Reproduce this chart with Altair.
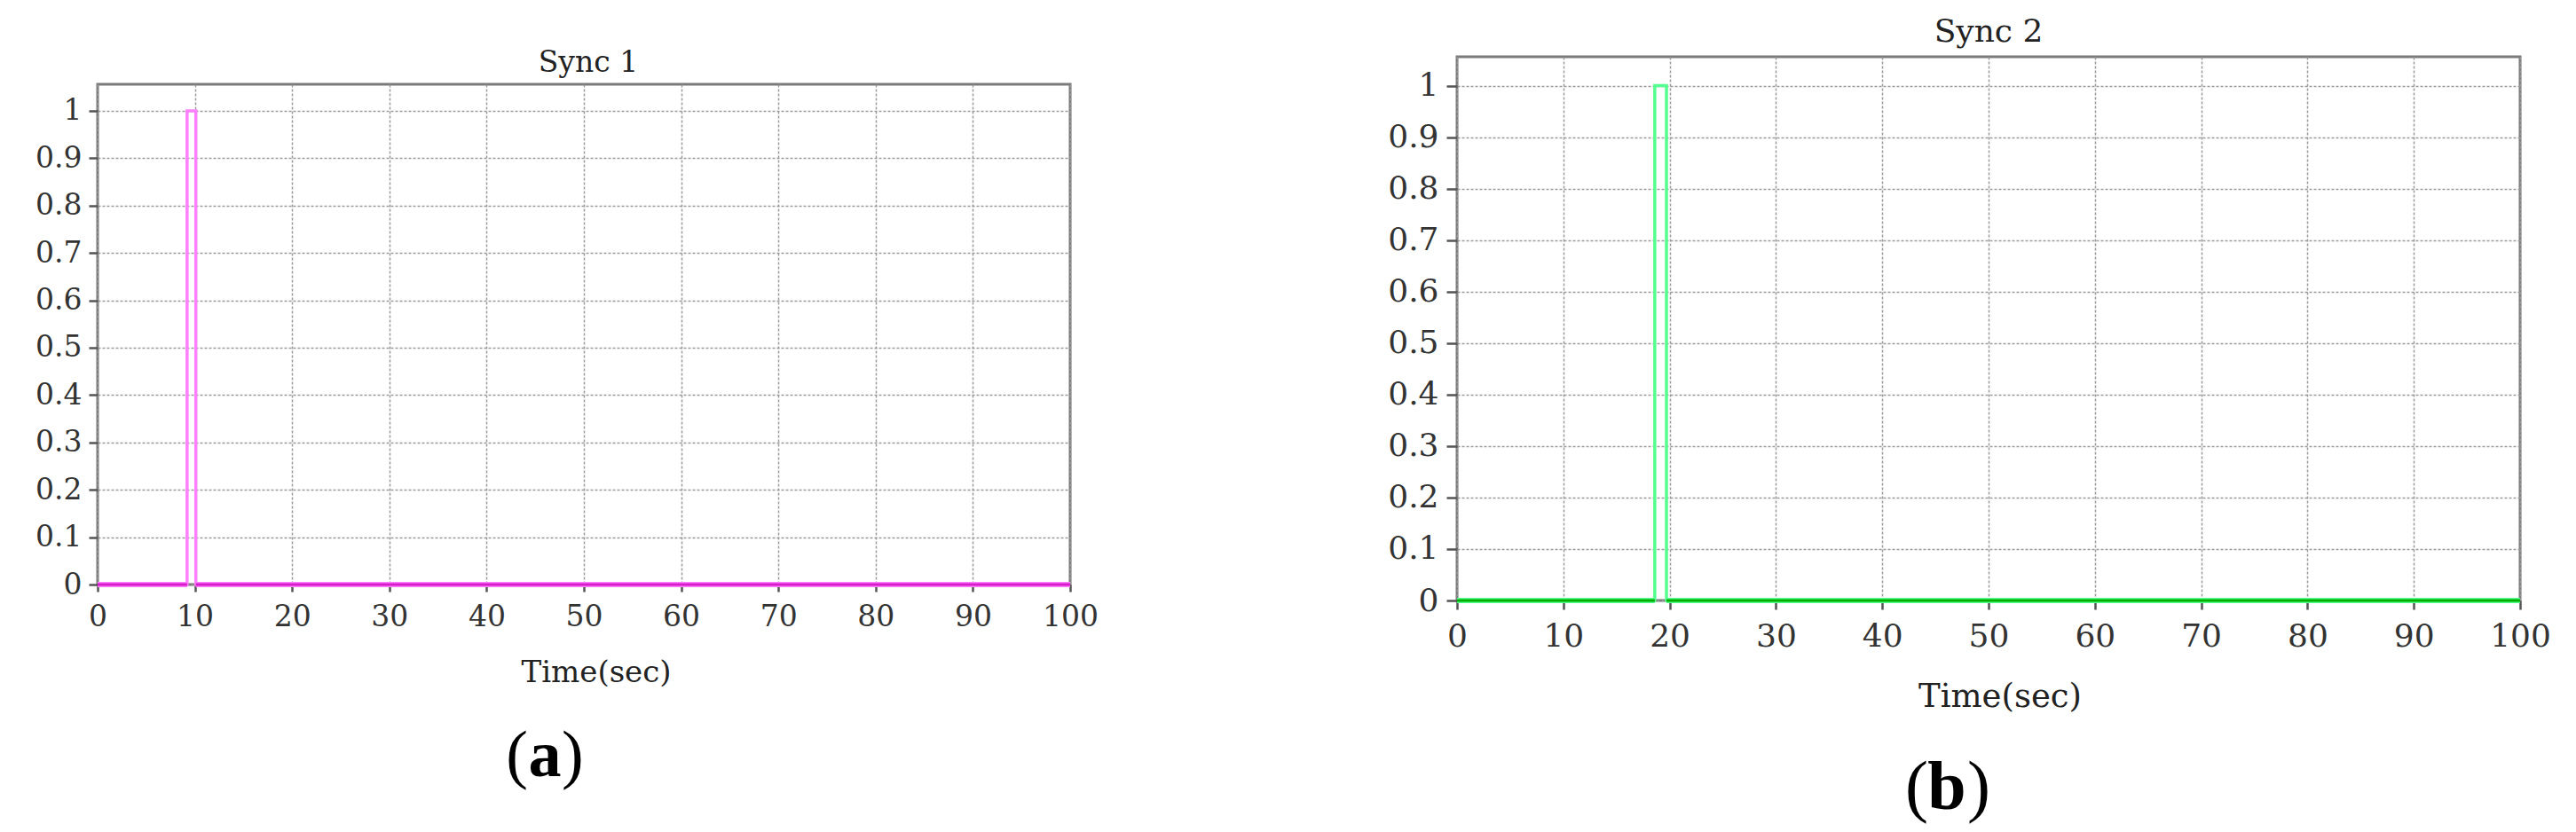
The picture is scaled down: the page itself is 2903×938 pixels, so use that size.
import altair as alt
import pandas as pd

# ---- data ----
time_a = [0, 9.2, 9.2, 10.1, 10.1, 100]
sync_a = [0, 0, 1, 1, 0, 0]
time_b = [0, 18.6, 18.6, 19.7, 19.7, 100]
sync_b = [0, 0, 1, 1, 0, 0]
x_ticks = [0, 10, 20, 30, 40, 50, 60, 70, 80, 90, 100]
y_ticks = [0, 0.1, 0.2, 0.3, 0.4, 0.5, 0.6, 0.7, 0.8, 0.9, 1.0]
titles = ["Sync 1", "Sync 2"]
panel_letters = ["a", "b"]
x_title = "Time(sec)"

FONT = "DejaVu Serif"
LFONT = "Liberation Serif"


def panel(times, vals, title, letter, pulse_color, base_color, g):
    W, H = g["W"], g["H"]
    df = pd.DataFrame({"t": times, "v": vals, "i": list(range(len(times)))})
    segs = [
        {"x0": times[k], "x1": times[k + 1], "v": vals[k]}
        for k in range(len(times) - 1)
        if vals[k] == 0 and vals[k + 1] == 0 and times[k] != times[k + 1]
    ]
    base_df = pd.DataFrame(segs)

    xs = alt.Scale(domain=[0, 100], nice=False, zero=False)
    ys = alt.Scale(domain=[0, 1.056], nice=False)

    xaxis = alt.Axis(
        values=x_ticks, title=None, grid=True, gridColor="#9a9a9a",
        gridDash=[3, 2], gridWidth=1.5, domain=False, tickColor="#555",
        tickWidth=2.5, tickSize=g["tick"], labelFont=FONT,
        labelFontSize=g["lab"], labelColor="#333", labelPadding=g["xpad"],
        labelFlush=False, labelOverlap=False, format="d",
    )
    yaxis = alt.Axis(
        values=y_ticks, title=None, grid=True, gridColor="#9a9a9a",
        gridDash=[3, 2], gridWidth=1.5, domain=False, tickColor="#555",
        tickWidth=2.5, tickSize=g["ytick"], labelFont=FONT,
        labelFontSize=g["lab"], labelColor="#333", labelPadding=g["ypad"],
        labelOverlap=False, format=".1~f",
    )

    line = alt.Chart(df).mark_line(color=pulse_color, strokeWidth=3.5).encode(
        x=alt.X("t:Q", scale=xs, axis=xaxis),
        y=alt.Y("v:Q", scale=ys, axis=yaxis),
        order="i:Q",
    )
    base_glow = alt.Chart(base_df).mark_rule(color=pulse_color, strokeWidth=6).encode(
        x=alt.X("x0:Q", scale=xs, axis=xaxis), x2="x1:Q",
        y=alt.Y("v:Q", scale=ys, axis=yaxis),
    )
    base = alt.Chart(base_df).mark_rule(color=base_color, strokeWidth=3).encode(
        x=alt.X("x0:Q", scale=xs, axis=xaxis), x2="x1:Q",
        y=alt.Y("v:Q", scale=ys, axis=yaxis),
    )

    one = pd.DataFrame({"k": [0]})

    def txt(text, x, y, size, font=FONT, weight="normal", align="center", color="#222"):
        return alt.Chart(one).mark_text(
            text=text, font=font, fontSize=size, fontWeight=weight,
            align=align, baseline="alphabetic", color=color,
        ).encode(x=alt.value(x), y=alt.value(y))

    spacer1 = alt.Chart(one).mark_text(
        text=".", fontSize=1, opacity=0, align="left", baseline="top"
    ).encode(x=alt.value(g["sp_x"]), y=alt.value(g["sp_y"]))
    spacer2 = alt.Chart(one).mark_text(
        text=".", fontSize=1, opacity=0, align="left", baseline="top"
    ).encode(x=alt.value(g["sp2_x"]), y=alt.value(0))

    t_title = txt(title, g["tt_x"], g["tt_y"], g["tt_s"])
    t_x = txt(x_title, g["xt_x"], g["xt_y"], g["xt_s"])
    p_open = txt("(", g["lp_x"], g["l_y"], g["l_s"], font=LFONT, align="right", color="#000")
    p_let = txt(letter, g["l_x"], g["l_y"], g["l_s"], font=LFONT, weight="bold", color="#000")
    p_close = txt(")", g["rp_x"], g["l_y"], g["l_s"], font=LFONT, align="left", color="#000")

    return alt.layer(
        line, base_glow, base, t_title, t_x, p_open, p_let, p_close, spacer1, spacer2
    ).properties(width=W, height=H)


geo_a = dict(W=1096, H=564, tick=8, ytick=10, lab=33, xpad=12, ypad=8,
             sp_x=-100, sp_y=-84, sp2_x=1156,
             tt_x=553, tt_y=-14, tt_s=33,
             xt_x=562, xt_y=674, xt_s=34,
             l_x=504, lp_x=485, rp_x=523, l_y=780, l_s=74)
geo_b = dict(W=1198, H=613, tick=10, ytick=12, lab=36, xpad=13, ypad=9,
             sp_x=-372, sp_y=-53, sp2_x=0,
             tt_x=599, tt_y=-17, tt_s=36,
             xt_x=612, xt_y=733, xt_s=37,
             l_x=552, lp_x=531, rp_x=575, l_y=848, l_s=78)

left = panel(time_a, sync_a, titles[0], panel_letters[0], "#ff80ff", "#d81ccc", geo_a)
right = panel(time_b, sync_b, titles[1], panel_letters[1], "#55ff8f", "#00b000", geo_b)


def shim():
    # a 1px empty view on top of each column; each panel's own top extent then
    # decides how far below it the panel's plot area starts
    return alt.Chart(pd.DataFrame({"k": [0]})).mark_text(
        text=".", opacity=0, fontSize=1, align="left", baseline="top"
    ).encode(
        x=alt.value(0), y=alt.value(0)
    ).properties(width=10, height=1,
                 view=alt.ViewBackground(strokeOpacity=0, stroke="transparent"))


left_col = alt.vconcat(shim(), left, spacing=0)
right_col = alt.vconcat(shim(), right, spacing=0)

chart = alt.hconcat(left_col, right_col, spacing=0).properties(
    padding=0, background="white"
).configure_view(stroke="#7a7a7a", strokeWidth=3)

chart.save("out.html", embed_options={"renderer": "svg", "actions": False})
